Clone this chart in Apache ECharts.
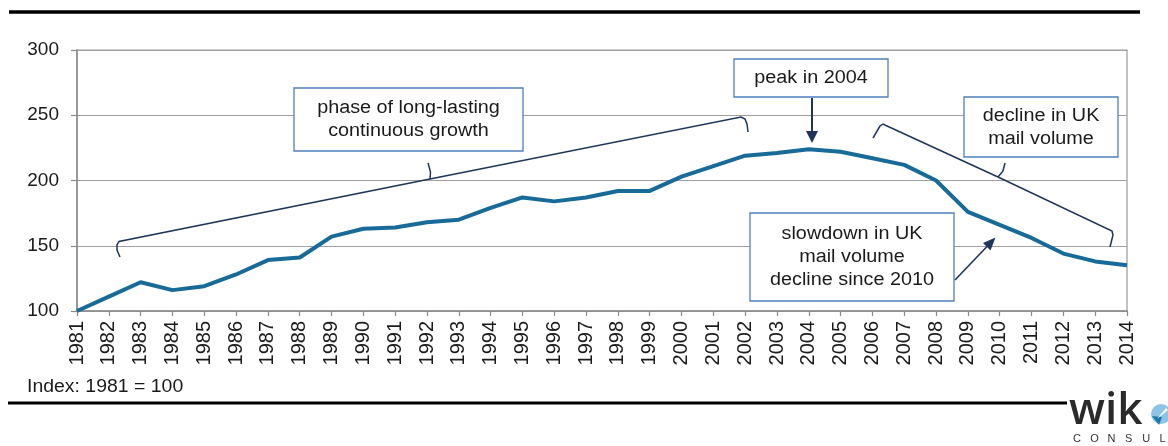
<!DOCTYPE html>
<html>
<head>
<meta charset="utf-8">
<script src="https://cdn.jsdelivr.net/npm/echarts@6/dist/echarts.min.js"></script>
<style>
html,body{margin:0;padding:0;background:#fff;}
#chart{width:1168px;height:446px;}
</style>
</head>
<body>
<div id="chart"></div>
<script>
var years = ['1981','1982','1983','1984','1985','1986','1987','1988','1989','1990','1991','1992','1993','1994','1995','1996','1997','1998','1999','2000','2001','2002','2003','2004','2005','2006','2007','2008','2009','2010','2011','2012','2013','2014'];
var mailIndex = [100,111,122,116,119,128,139,141,157,163,164,168,170,179,187,184,187,192,192,203,211,219,221,224,222,217,212,200,176,166,156,144,138,135];
var yTicks = [100,150,200,250,300];

var FONT = 'Liberation Sans, Arial, sans-serif';
var NAVY = '#1f3559';
var BOXC = '#4f7fbf';

function box(l,t,r,b,lines,cy){
  return [
    {type:'rect', z:10, shape:{x:l,y:t,width:r-l,height:b-t}, style:{fill:'#fff',stroke:BOXC,lineWidth:1.3}},
    {type:'text', z:11, x:(l+r)/2, y:cy, scaleX:1.1, style:{text:lines.join('\n'), fontSize:18, fontFamily:FONT, fill:'#1a1a1a', align:'center', verticalAlign:'middle', lineHeight:23}}
  ];
}
function pl(points, w){
  return {type:'polyline', z:10, shape:{points:points}, style:{fill:null,stroke:NAVY,lineWidth:w||1.5}};
}

var graphics = [];
// top & bottom rules
graphics.push({type:'line', z:10, shape:{x1:9,y1:12,x2:1140,y2:12}, style:{stroke:'#000',lineWidth:3.5}});
graphics.push({type:'line', z:10, shape:{x1:8,y1:403,x2:1067,y2:403}, style:{stroke:'#000',lineWidth:3}});
// footnote
graphics.push({type:'text', z:10, x:27, y:387, scaleX:1.08, style:{text:'Index: 1981 = 100', fontSize:18, fontFamily:FONT, fill:'#1a1a1a', align:'left', verticalAlign:'middle'}});
// boxes
graphics = graphics.concat(box(294,88,523,151,['phase of long-lasting','continuous growth'],120));
graphics = graphics.concat(box(734,59,888,97,['peak in 2004'],78.5));
graphics = graphics.concat(box(964,97,1118,157,['decline in UK','mail volume'],128));
graphics = graphics.concat(box(750,213,954,301,['slowdown in UK','mail volume','decline since 2010'],257));
// braces
graphics.push(pl([[120,257],[117,250],[117,245],[119,241.5],[430,179]]));
graphics.push(pl([[430,179],[430.5,172],[428,163]]));
graphics.push(pl([[430,179],[741,117],[745,119],[747,124],[748,132]]));
graphics.push(pl([[873,138],[880,126],[883,124],[886,125.5],[998,177]]));
graphics.push(pl([[998,177],[1003,171],[1005,163]]));
graphics.push(pl([[998,177],[1112,231],[1113,235],[1110,247]]));
// arrows
graphics.push({type:'line', z:10, shape:{x1:812,y1:98,x2:812,y2:132}, style:{stroke:NAVY,lineWidth:2}});
graphics.push({type:'polygon', z:10, shape:{points:[[806,131],[818,131],[812,143]]}, style:{fill:NAVY}});
graphics.push({type:'line', z:10, shape:{x1:955,y1:280,x2:987,y2:246.5}, style:{stroke:NAVY,lineWidth:1.6}});
graphics.push({type:'polygon', z:10, shape:{points:[[990.5,250.5],[983,243],[995.5,237.5]]}, style:{fill:NAVY}});
// logo
graphics.push({type:'text', z:10, x:1069, y:411, style:{text:'wik', fontSize:44, fontWeight:600, fontFamily:'Open Sans, sans-serif', fill:'#2a2a2a', align:'left', verticalAlign:'middle'}});
graphics.push({type:'circle', z:10, shape:{cx:1161,cy:414,r:10}, style:{fill:'#8cc4e8'}});
graphics.push({type:'polygon', z:11, shape:{points:[[1152,416],[1159,425],[1162,417]]}, style:{fill:'#1e78ad'}});
graphics.push({type:'polygon', z:11, shape:{points:[[1157,419],[1166,408],[1168,410]]}, style:{fill:'#ffffff'}});
var consult = ['C','O','N','S','U','L','T'];
for (var i=0;i<consult.length;i++){
  graphics.push({type:'text', z:10, x:1073+i*17.3, y:439, style:{text:consult[i], fontSize:11, fontFamily:FONT, fill:'#333', align:'left', verticalAlign:'middle'}});
}

var chart = echarts.init(document.getElementById('chart'));
chart.setOption({
  animation:false,
  backgroundColor:'#fff',
  grid:{left:77,right:41,top:50,bottom:135,show:true,borderColor:'#999',borderWidth:1.2,backgroundColor:'transparent'},
  xAxis:{
    type:'category', data:years, boundaryGap:false,
    axisLine:{lineStyle:{color:'#8a8a8a',width:1.5}},
    axisTick:{show:true,inside:false,length:5,lineStyle:{color:'#8a8a8a',width:1.2}},
    axisLabel:{rotate:90,margin:10,fontSize:20,fontFamily:FONT,color:'#1a1a1a',interval:0},
    splitLine:{show:false}
  },
  yAxis:{
    type:'value', min:yTicks[0], max:yTicks[yTicks.length-1], interval:50,
    axisLine:{show:true,lineStyle:{color:'#8a8a8a',width:1.5}},
    axisTick:{show:true,inside:false,length:6,lineStyle:{color:'#8a8a8a',width:1.2}},
    axisLabel:{margin:18,fontSize:19,fontFamily:FONT,color:'#1a1a1a'},
    splitLine:{show:true,lineStyle:{color:'#a0a0a0',width:1.2}}
  },
  series:[{
    type:'line', data:mailIndex, symbol:'none',
    lineStyle:{color:'#186b98',width:4}, z:3
  }],
  graphic:graphics
});
</script>
</body>
</html>
